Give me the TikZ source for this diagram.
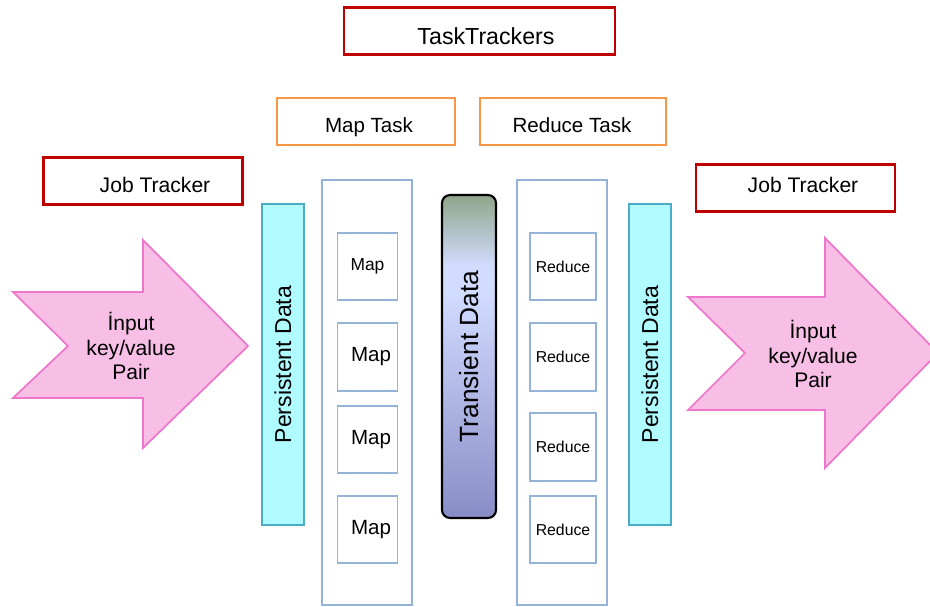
\documentclass[tikz,border=0pt]{standalone}
\usepackage{fontspec}
\setmainfont{Liberation Sans}
\definecolor{trackred}{HTML}{C00000}
\definecolor{taskorange}{HTML}{F79646}
\definecolor{persfill}{HTML}{AFFBFF}
\definecolor{persline}{HTML}{4BACC6}
\definecolor{colline}{HTML}{95B3D7}
\definecolor{pairfill}{HTML}{F7BFE6}
\definecolor{pairline}{HTML}{EE77CC}
\definecolor{tdtop}{HTML}{8EA68A}
\definecolor{tdmid}{HTML}{D2DCFF}
\definecolor{tdbot}{HTML}{888CC6}
\pgfdeclareverticalshading{transient}{100bp}{color(0bp)=(tdbot); color(25bp)=(tdbot); color(60bp)=(tdmid); color(64bp)=(tdmid); color(75bp)=(tdtop); color(100bp)=(tdtop)}
\tikzset{
  tracker/.style={draw=trackred, line width=1.2pt, minimum width=3.98cm, minimum height=0.94cm},
  taskbox/.style={draw=taskorange, line width=1.1pt, minimum height=0.94cm},
  persist/.style={draw=persline, fill=persfill, line width=1.2pt, minimum width=0.84cm, minimum height=6.42cm},
  column/.style={draw=colline, line width=1.1pt, minimum width=1.8cm, minimum height=8.5cm},
  job/.style={draw=colline, line width=1.1pt, minimum height=1.35cm},
  pair/.style={draw=pairline, fill=pairfill, line width=1pt, line join=miter},
}
\begin{document}
\begin{tikzpicture}[x=0.02cm,y=-0.02cm]
\clip (0,0) rectangle (930,607);
\fill[white] (0,0) rectangle (930,607);

% trackers
\node[tracker, minimum width=5.42cm] (tt) at (479.5,31) {};
\node[font=\fontsize{13.2}{15}\selectfont] (ttlabel) at (486,36) {TaskTrackers};
\node[tracker] (jtl) at (143,181) {};
\node[font=\fontsize{12}{14}\selectfont] (jtllabel) at (155,185) {Job Tracker};
\node[tracker] (jtr) at (795.5,188) {};
\node[font=\fontsize{12}{14}\selectfont] (jtrlabel) at (803,185) {Job Tracker};

% tasks
\node[taskbox, minimum width=3.56cm] (maptask) at (366,121.5) {};
\node[font=\fontsize{11.7}{14}\selectfont] (maptasklabel) at (369,127) {Map Task};
\node[taskbox, minimum width=3.72cm] (redtask) at (573,121.5) {};
\node[font=\fontsize{11.7}{14}\selectfont] (redtasklabel) at (572,125) {Reduce Task};

% input pairs
\draw[pair] (13,292) -- (143,292) -- (143,240) -- (248,346) -- (143,448) -- (143,398) -- (13,398) -- (68,346) -- cycle;
\node[align=center, font=\fontsize{12}{14.2}\selectfont] (pairl) at (131,346) {İnput\\key/value\\Pair};
\draw[pair] (688,297) -- (825,297) -- (825,238) -- (938,353) -- (825,468) -- (825,410) -- (688,410) -- (745,353) -- cycle;
\node[align=center, font=\fontsize{12}{14.2}\selectfont] (pairr) at (813,354) {İnput\\key/value\\Pair};

% persistent data
\node[persist] (persl) at (283,364.5) {};
\node[rotate=90, font=\fontsize{13.1}{15}\selectfont] (persllabel) at (persl) {Persistent Data};
\node[persist] (persr) at (650,364.5) {};
\node[rotate=90, font=\fontsize{13.1}{15}\selectfont] (persrlabel) at (persr) {Persistent Data};

% columns
\node[column] (mapcol) at (367,392.5) {};
\node[column] (redcol) at (562,392.5) {};

\node[job, minimum width=1.2cm, font=\fontsize{9.9}{12}\selectfont] (map1) at (367.5,266.5) {Map};
\node[job, minimum width=1.2cm, font=\fontsize{11.7}{14}\selectfont] (map2) at (367.5,357) {\hspace{4pt}Map};
\node[job, minimum width=1.2cm, font=\fontsize{11.7}{14}\selectfont] (map3) at (367.5,439.5) {\hspace{4pt}Map};
\node[job, minimum width=1.2cm, font=\fontsize{11.7}{14}\selectfont] (map4) at (367.5,529.5) {\hspace{4pt}Map};

\node[job, minimum width=1.2cm, font=\fontsize{9}{11}\selectfont] (red1) at (563,266.5) {Reduce};
\node[job, minimum width=1.2cm, font=\fontsize{9}{11}\selectfont] (red2) at (563,357) {Reduce};
\node[job, minimum width=1.2cm, font=\fontsize{9}{11}\selectfont] (red3) at (563,447) {Reduce};
\node[job, minimum width=1.2cm, font=\fontsize{9}{11}\selectfont] (red4) at (563,529.5) {Reduce};

% transient data
\node[draw=black, line width=1.2pt, rounded corners=0.16cm, shading=transient, minimum width=1.08cm, minimum height=6.46cm] (trans) at (469,356.5) {};
\node[rotate=90, font=\fontsize{15}{17}\selectfont] (translabel) at (trans) {Transient Data};
\end{tikzpicture}
\end{document}
